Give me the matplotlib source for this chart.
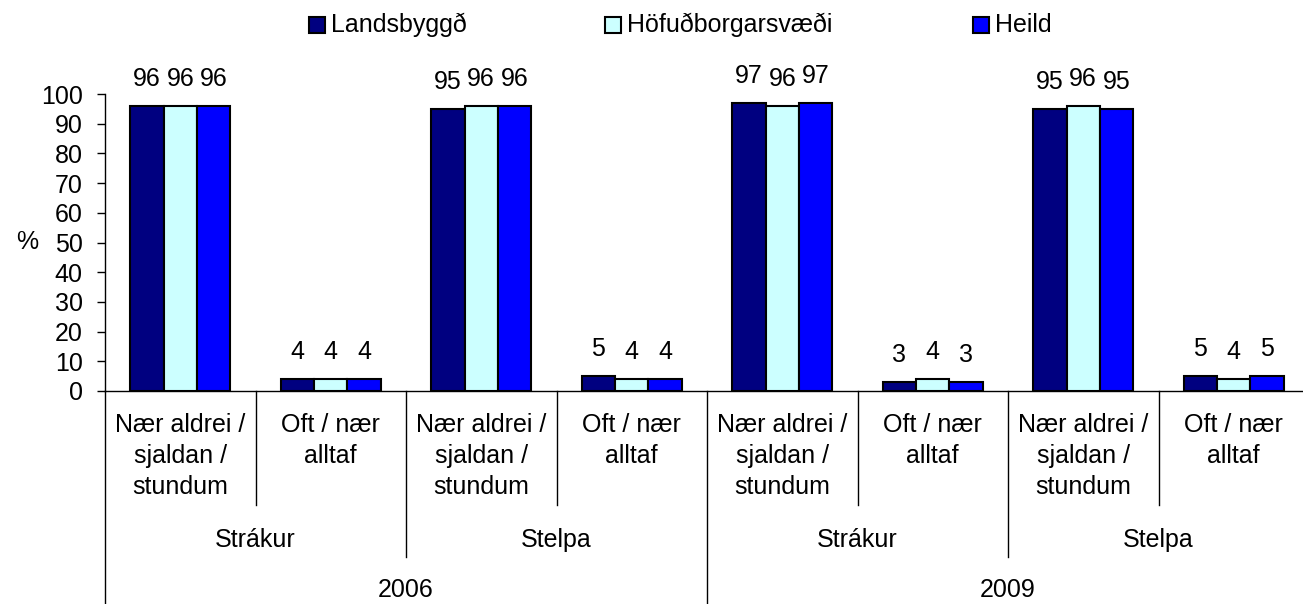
import matplotlib
matplotlib.use("Agg")
import matplotlib.pyplot as plt
from matplotlib.patches import Rectangle
from matplotlib.transforms import blended_transform_factory
import numpy as np

plt.rcParams['font.family'] = ['Liberation Sans', 'DejaVu Sans']

# Data
series_names = ["Landsbyggð", "Höfuðborgarsvæði", "Heild"]
series_colors = ["#000080", "#CCFFFF", "#0000FF"]
answers = ["Nær aldrei /\nsjaldan /\nstundum", "Oft / nær\nalltaf"]
sexes = ["Strákur", "Stelpa"]
years = ["2006", "2009"]

landsbyggd = [96, 4, 95, 5, 97, 3, 95, 5]
hofudborg = [96, 4, 96, 4, 96, 4, 96, 4]
heild = [96, 4, 96, 4, 97, 3, 95, 5]
values = [landsbyggd, hofudborg, heild]

W, H = 1303, 604
fig = plt.figure(figsize=(W / 100, H / 100), dpi=100)
x0, x1 = 105, 1309
y0, y1 = 391, 94
ax = fig.add_axes([x0 / W, 1 - y0 / H, (x1 - x0) / W, (y0 - y1) / H])

n = len(landsbyggd)
x = np.arange(n)
bw = 0.222
fs = 18

for k, (vals, col) in enumerate(zip(values, series_colors)):
    pos = x + (k - 1) * bw
    ax.bar(pos, vals, width=bw, color=col, edgecolor="black", linewidth=1.5, zorder=3)
    for p, v in zip(pos, vals):
        ax.annotate(f"{v}", (p, v), xytext=(0, 11), textcoords="offset points",
                    ha="center", va="bottom", fontsize=fs)

ax.set_xlim(-0.5, n - 0.5)
ax.set_ylim(0, 100)
ax.set_yticks(np.arange(0, 101, 10))
ax.tick_params(axis="y", direction="out", length=6, width=1, labelsize=fs, pad=10)
ax.set_xticks([])
for s in ["top", "right"]:
    ax.spines[s].set_visible(False)
ax.spines["left"].set_linewidth(1)
ax.spines["bottom"].set_linewidth(1)

fig.text(27 / W, 1 - 242 / H, "%", fontsize=fs, ha="center", va="center")

# Hierarchical category axis
tr = blended_transform_factory(ax.transData, ax.transAxes)
def frac(py):
    return (y0 - py) / (y0 - y1)

ax.plot([-0.5, -0.5], [0, frac(620)], transform=tr, color="black", lw=1, clip_on=False)
for b in range(1, n):
    xb = b - 0.5
    if b % 4 == 0:
        bottom = frac(620)
    elif b % 2 == 0:
        bottom = frac(557)
    else:
        bottom = frac(505)
    ax.plot([xb, xb], [0, bottom], transform=tr, color="black", lw=1, clip_on=False)

for i in range(n):
    ax.text(i, frac(413), answers[i % 2], transform=tr, ha="center", va="top",
            fontsize=fs, linespacing=1.38)
for j in range(n // 2):
    ax.text(2 * j + 0.5, frac(540), sexes[j % 2], transform=tr, ha="center",
            va="center", fontsize=fs)
for y in range(n // 4):
    ax.text(4 * y + 1.5, frac(590), years[y], transform=tr, ha="center",
            va="center", fontsize=fs)

# Legend
leg_x = [309, 605, 973]
for lx, name, col in zip(leg_x, series_names, series_colors):
    fig.patches.append(Rectangle((lx / W, 1 - 33 / H), 16 / W, 16 / H,
                                 transform=fig.transFigure, facecolor=col,
                                 edgecolor="black", linewidth=1.5))
    fig.text((lx + 22) / W, 1 - 25 / H, name, fontsize=fs, ha="left", va="center")

fig.savefig("out.png", dpi=100)
